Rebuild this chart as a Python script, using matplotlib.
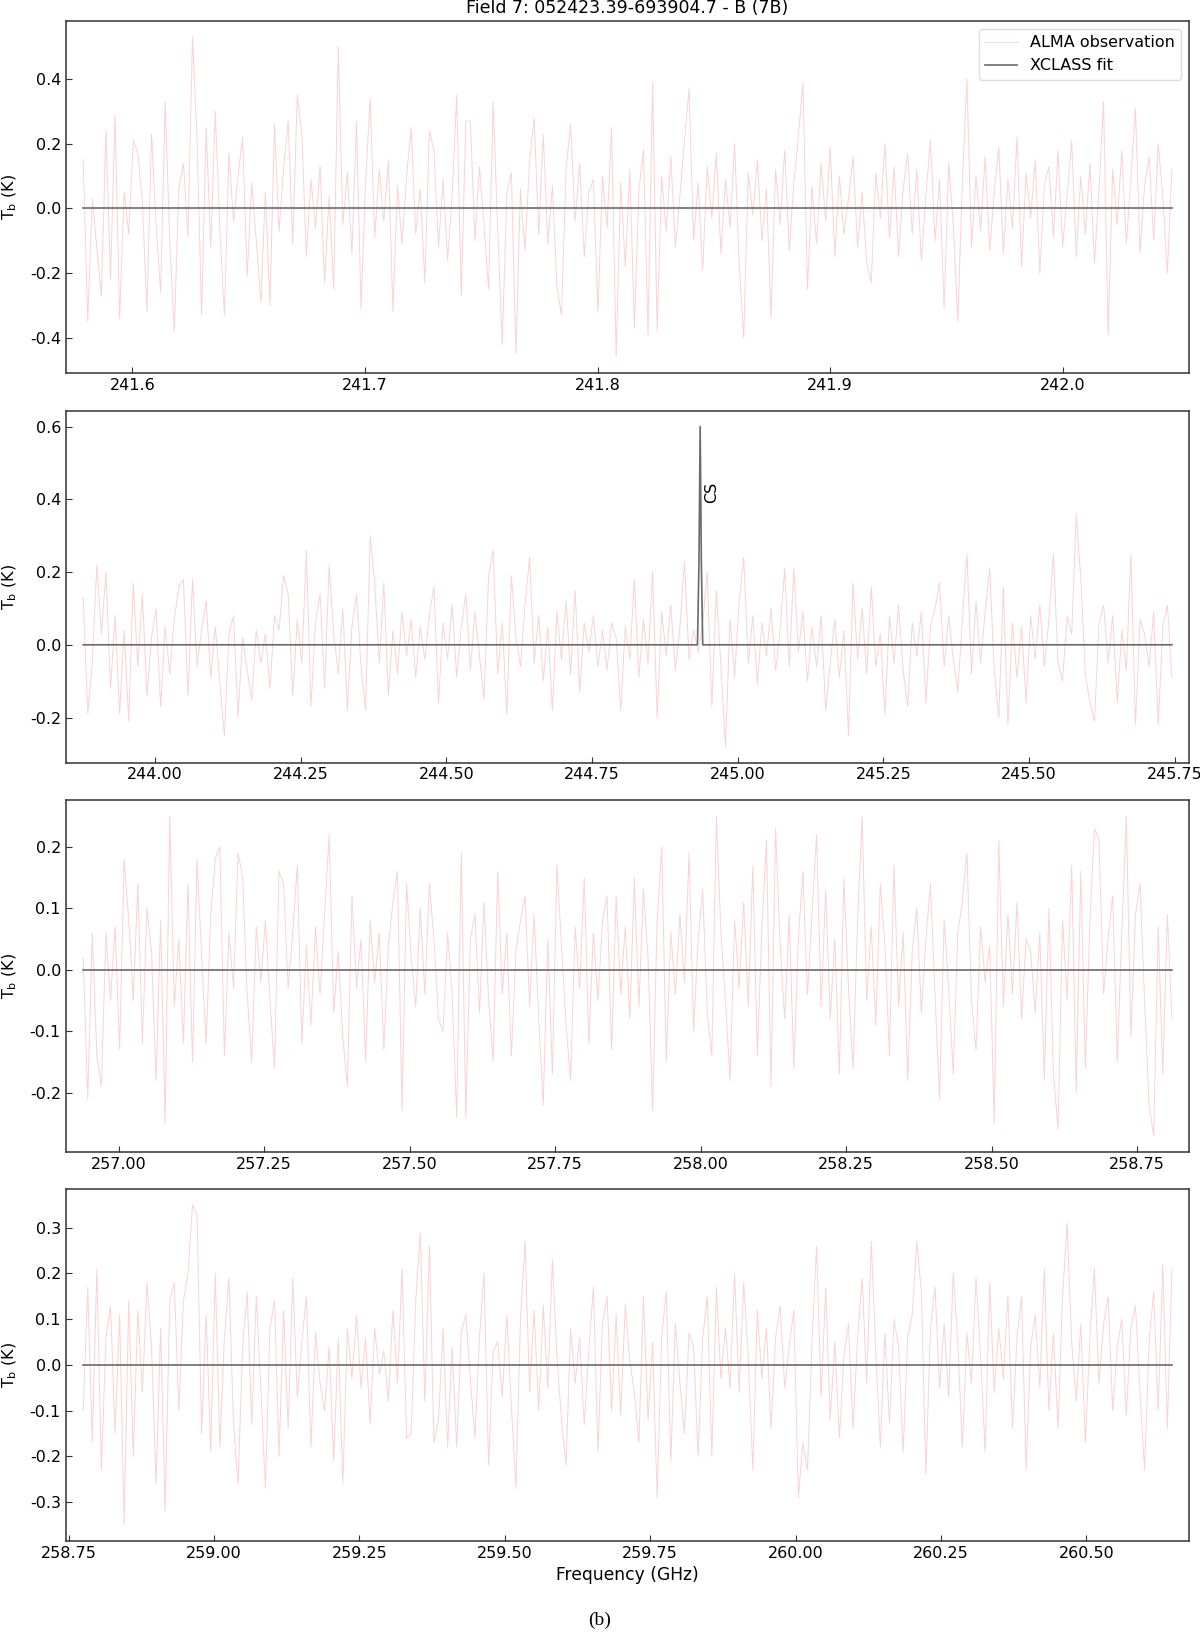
import numpy as np
import matplotlib
matplotlib.use('Agg')
import matplotlib.pyplot as plt

# Faixas de frequência (GHz) de cada janela espectral
freq_lim_1 = (241.5788, 242.047)
freq_lim_2 = (243.877, 245.745)
freq_lim_3 = (256.939, 258.810)
freq_lim_4 = (258.775, 260.647)

tb_obs_1 = [
    0.15, -0.35, 0.03, -0.12, -0.27, 0.24, -0.22, 0.29, -0.34, 0.05, -0.08, 0.21, 0.17, 0.02, -0.32, 0.23, -0.05, -0.26, 0.33, -0.10,
    -0.38, 0.06, 0.14, -0.09, 0.53, 0.21, -0.33, 0.25, -0.12, 0.30, -0.06, -0.33, 0.17, -0.04, 0.10, 0.22, -0.21, 0.08, -0.10, -0.29,
    0.05, -0.30, 0.26, -0.07, 0.12, 0.27, -0.11, 0.35, 0.23, -0.15, 0.09, -0.06, 0.13, -0.23, 0.04, -0.25, 0.50, -0.05, 0.11, -0.14,
    0.27, -0.31, 0.08, 0.34, -0.09, 0.12, -0.04, 0.15, -0.32, 0.07, -0.11, 0.10, 0.25, -0.08, 0.06, -0.23, 0.24, 0.18, -0.12, 0.09,
    -0.16, 0.04, 0.35, -0.27, 0.27, 0.27, -0.10, 0.13, -0.05, -0.25, 0.33, -0.07, -0.42, 0.05, 0.11, -0.45, 0.06, -0.13, 0.15, 0.28,
    -0.08, 0.23, -0.11, 0.07, -0.24, -0.33, 0.12, 0.26, -0.04, 0.14, -0.15, 0.05, 0.09, -0.32, 0.10, -0.06, 0.25, -0.46, 0.08, -0.18,
    0.12, -0.37, 0.06, 0.18, -0.39, 0.39, -0.38, 0.10, -0.07, 0.16, -0.12, 0.04, 0.21, 0.37, -0.10, 0.08, -0.19, 0.13, -0.03, 0.17,
    -0.14, 0.09, -0.06, 0.20, -0.17, -0.40, 0.11, -0.02, 0.15, -0.10, 0.06, -0.34, 0.12, -0.05, 0.18, -0.13, 0.08, 0.22, 0.39, -0.25,
    0.07, -0.11, 0.14, -0.04, 0.19, -0.15, 0.10, -0.08, 0.03, 0.16, -0.12, 0.05, -0.17, -0.23, 0.11, -0.03, 0.20, -0.09, 0.13, -0.15,
    0.06, 0.17, -0.08, 0.12, -0.16, 0.04, 0.21, -0.10, 0.09, -0.31, 0.14, -0.05, -0.35, 0.08, 0.40, -0.12, 0.10, -0.07, 0.16, -0.13,
    0.05, 0.19, -0.14, 0.09, -0.06, 0.22, -0.18, 0.11, -0.03, 0.15, -0.20, 0.07, 0.13, -0.09, 0.18, -0.12, 0.04, 0.21, -0.15, 0.10,
    -0.08, 0.14, -0.17, 0.06, 0.33, -0.39, 0.12, -0.05, 0.18, -0.11, 0.09, 0.31, -0.14, 0.07, 0.16, -0.10, 0.20, 0.04, -0.20, 0.12,
]
tb_obs_2 = [
    0.13, -0.19, -0.05, 0.22, 0.03, 0.20, -0.12, 0.08, -0.19, 0.04, -0.21, 0.17, -0.06, 0.14, -0.14, 0.02, 0.10, -0.17, 0.05, -0.08,
    0.07, 0.16, 0.18, -0.14, 0.18, -0.06, 0.04, 0.12, -0.09, 0.05, -0.10, -0.25, 0.03, 0.08, -0.20, 0.02, -0.07, -0.15, 0.04, -0.05,
    0.03, -0.12, 0.08, 0.04, 0.19, 0.14, -0.14, 0.07, -0.05, 0.26, -0.17, 0.06, 0.14, -0.12, 0.22, 0.03, -0.08, 0.10, -0.18, 0.05,
    0.14, -0.06, -0.18, 0.30, 0.17, -0.05, 0.17, -0.14, 0.04, -0.08, 0.09, -0.03, 0.07, -0.09, 0.05, -0.04, 0.08, 0.16, -0.16, 0.06,
    -0.04, 0.11, -0.09, 0.05, 0.14, -0.07, 0.09, -0.03, -0.15, 0.19, 0.26, -0.08, 0.06, -0.19, 0.19, 0.02, -0.06, 0.11, 0.24, -0.05,
    0.08, -0.10, 0.05, -0.18, 0.09, -0.04, 0.12, -0.08, 0.15, -0.13, 0.06, -0.02, 0.08, -0.06, 0.04, -0.07, 0.06, 0.02, -0.18, 0.05,
    -0.04, 0.18, -0.09, 0.07, -0.05, 0.20, -0.20, 0.09, -0.03, 0.11, -0.07, 0.05, 0.23, -0.04, 0.04, -0.02, 0.06, 0.20, -0.17, 0.15,
    -0.06, -0.28, 0.07, -0.09, 0.12, 0.24, -0.05, 0.08, -0.11, 0.06, -0.03, 0.10, -0.07, 0.04, 0.21, -0.06, 0.21, -0.02, 0.09, -0.10,
    0.05, -0.06, 0.08, -0.18, -0.05, 0.07, -0.09, 0.04, -0.25, 0.17, -0.04, 0.10, -0.08, 0.16, -0.06, 0.03, -0.19, 0.08, -0.05, 0.11,
    -0.07, -0.17, 0.06, -0.03, 0.09, -0.16, 0.05, 0.10, 0.17, -0.06, 0.08, -0.04, -0.13, 0.07, 0.25, -0.08, 0.12, -0.05, 0.09, 0.21,
    -0.07, -0.20, 0.16, -0.22, 0.06, -0.09, 0.05, -0.16, 0.08, -0.04, 0.11, -0.06, 0.07, 0.25, -0.05, -0.10, 0.08, 0.03, 0.36, 0.18,
    -0.08, -0.16, -0.21, 0.06, 0.11, -0.05, 0.08, -0.16, 0.04, -0.07, 0.25, -0.22, 0.07, 0.03, -0.06, 0.09, -0.22, 0.05, 0.11, -0.09,
]
tb_obs_3 = [
    0.02, -0.21, 0.06, -0.14, -0.19, 0.06, -0.05, 0.07, -0.13, 0.18, 0.08, -0.05, 0.14, -0.12, 0.10, 0.03, -0.18, 0.08, -0.25, 0.25,
    -0.06, 0.05, -0.12, 0.14, -0.15, 0.18, 0.02, -0.12, 0.09, 0.18, 0.20, -0.14, 0.06, -0.03, 0.19, 0.15, -0.04, -0.15, 0.07, -0.02,
    0.08, -0.05, -0.16, 0.16, 0.14, -0.03, 0.06, 0.17, -0.12, 0.04, -0.09, 0.07, -0.04, 0.09, 0.22, -0.07, 0.03, -0.11, -0.19, 0.12,
    -0.03, 0.05, -0.15, 0.08, -0.02, 0.06, -0.13, 0.04, 0.11, 0.16, -0.23, 0.14, 0.02, -0.06, 0.10, -0.04, 0.14, 0.05, -0.08, -0.10,
    0.06, -0.04, -0.24, 0.19, -0.24, 0.05, 0.09, -0.07, 0.11, -0.05, -0.15, 0.16, -0.04, 0.06, -0.14, 0.03, 0.08, 0.12, -0.06, 0.09,
    -0.08, -0.22, 0.05, -0.17, 0.17, 0.04, -0.09, -0.18, 0.07, -0.03, 0.15, -0.12, 0.06, -0.05, 0.08, 0.12, -0.13, 0.12, -0.04, 0.07,
    -0.08, 0.15, -0.06, 0.13, 0.02, -0.23, 0.08, 0.20, -0.15, 0.06, -0.04, 0.09, -0.02, 0.19, -0.10, 0.05, 0.13, -0.07, -0.14, 0.25,
    0.06, -0.05, -0.18, 0.08, -0.03, 0.11, -0.06, 0.17, -0.14, 0.07, 0.21, -0.19, 0.23, 0.04, -0.08, 0.09, -0.16, 0.05, 0.16, -0.04,
    0.09, 0.22, -0.06, 0.13, -0.08, 0.05, -0.17, 0.15, -0.03, -0.16, 0.08, 0.25, -0.05, 0.07, -0.09, 0.14, 0.04, -0.14, 0.17, -0.06,
    0.06, -0.18, 0.03, 0.10, -0.07, 0.05, 0.14, -0.04, -0.21, 0.08, -0.03, -0.17, 0.06, 0.11, 0.19, -0.05, -0.13, 0.07, -0.02, 0.04,
    -0.25, 0.21, -0.06, 0.09, -0.04, 0.11, -0.08, 0.05, 0.03, -0.07, 0.06, -0.18, 0.10, -0.17, -0.26, 0.08, -0.05, 0.17, -0.20, 0.16,
    -0.16, 0.08, 0.23, 0.21, -0.04, 0.05, 0.12, -0.15, 0.06, 0.25, -0.11, 0.09, 0.14, -0.05, -0.22, -0.27, 0.07, -0.17, 0.09, -0.08,
]
tb_obs_4 = [
    -0.10, 0.17, -0.17, 0.21, -0.23, 0.06, 0.13, -0.15, 0.11, -0.35, 0.14, -0.20, 0.12, -0.06, 0.18, 0.04, -0.26, 0.08, -0.32, 0.14,
    0.18, -0.10, 0.14, 0.20, 0.35, 0.33, -0.15, 0.11, -0.19, 0.20, -0.18, 0.06, 0.19, -0.13, -0.26, 0.04, 0.16, -0.13, 0.15, -0.05,
    -0.27, 0.08, 0.14, -0.20, 0.12, -0.14, 0.19, -0.07, 0.05, 0.15, -0.18, 0.07, -0.04, -0.10, 0.04, -0.21, 0.06, -0.26, 0.08, -0.03,
    0.11, -0.05, 0.06, -0.13, 0.08, -0.02, 0.03, -0.08, 0.12, -0.04, 0.21, -0.16, -0.15, 0.14, 0.29, -0.08, 0.26, -0.17, -0.12, 0.08,
    -0.18, 0.04, -0.18, 0.07, 0.11, -0.03, -0.16, 0.06, 0.20, -0.22, 0.03, 0.05, -0.07, 0.11, -0.09, -0.27, 0.10, 0.27, -0.06, 0.12,
    -0.10, 0.13, -0.05, 0.23, 0.02, -0.12, -0.22, 0.08, -0.04, 0.06, -0.13, 0.03, 0.17, -0.19, 0.09, 0.15, -0.10, 0.11, -0.11, 0.13,
    0.01, -0.06, -0.17, 0.15, -0.12, 0.05, -0.29, 0.06, 0.16, -0.21, 0.09, -0.04, -0.15, 0.07, 0.04, -0.20, 0.06, 0.15, -0.20, 0.17,
    -0.03, 0.08, -0.05, 0.20, -0.06, 0.18, 0.02, -0.23, 0.12, -0.03, 0.08, -0.14, 0.06, 0.13, -0.05, 0.04, 0.12, -0.29, -0.17, -0.23,
    0.05, 0.26, -0.07, 0.17, -0.12, 0.05, -0.16, 0.02, 0.09, -0.14, 0.06, 0.19, -0.04, 0.27, 0.03, -0.18, 0.07, -0.13, 0.10, 0.04,
    -0.19, 0.06, 0.11, 0.27, 0.16, -0.24, 0.08, 0.17, -0.05, 0.09, -0.07, 0.20, 0.05, -0.18, 0.07, -0.04, 0.19, 0.02, -0.19, 0.18,
    -0.06, 0.08, -0.03, 0.15, -0.14, 0.06, 0.15, -0.23, 0.04, 0.11, -0.05, 0.21, -0.10, 0.07, -0.14, 0.15, 0.31, 0.05, -0.08, 0.09,
    -0.17, 0.06, 0.21, -0.04, 0.09, 0.15, -0.10, 0.04, 0.10, -0.11, 0.08, 0.13, -0.06, -0.23, 0.05, 0.16, -0.10, 0.22, -0.14, 0.21,
]

# Ajuste XCLASS: linha de base nula, com a linha de CS na segunda janela
fit_freq_1 = [241.5788, 242.047]
fit_tb_1 = [0.0, 0.0]
fit_freq_2 = [243.877, 244.9310, 244.9335, 244.9356, 244.9377, 244.9400, 245.745]
fit_tb_2 = [0.0, 0.0, 0.22, 0.60, 0.22, 0.0, 0.0]
fit_freq_3 = [256.939, 258.810]
fit_tb_3 = [0.0, 0.0]
fit_freq_4 = [258.775, 260.647]
fit_tb_4 = [0.0, 0.0]

# Identificação de linha (frequência, Tb do rótulo)
cs_label_freq = 244.955
cs_label_tb = 0.42

titulo = 'Field 7: 052423.39-693904.7 - B (7B)'

plt.rcParams['font.family'] = ['DejaVu Sans']
plt.rcParams['font.size'] = 11
plt.rcParams['xtick.direction'] = 'in'
plt.rcParams['ytick.direction'] = 'in'
plt.rcParams['axes.edgecolor'] = '#333333'
plt.rcParams['axes.linewidth'] = 1.1

fig = plt.figure(figsize=(12, 16.32), dpi=100)

# posições dos painéis (left, bottom, width, height)
posicoes = [
    [0.0548, 0.7713, 0.9363, 0.2159],
    [0.0548, 0.5327, 0.9363, 0.2157],
    [0.0548, 0.2943, 0.9363, 0.2155],
    [0.0548, 0.0558, 0.9363, 0.2157],
]
obs = [tb_obs_1, tb_obs_2, tb_obs_3, tb_obs_4]
lims = [freq_lim_1, freq_lim_2, freq_lim_3, freq_lim_4]
fits = [(fit_freq_1, fit_tb_1), (fit_freq_2, fit_tb_2),
        (fit_freq_3, fit_tb_3), (fit_freq_4, fit_tb_4)]

cor_obs = '#fbd2d2'
cor_fit = '#6a6a6a'

axes = []
for k in range(4):
    ax = fig.add_axes(posicoes[k])
    freq = np.linspace(lims[k][0], lims[k][1], len(obs[k]))
    ax.plot(freq, obs[k], color=cor_obs, lw=0.7, label='ALMA observation')
    ax.plot(fits[k][0], fits[k][1], color=cor_fit, lw=1.2, label='XCLASS fit')
    ax.margins(x=0.016, y=0.05)
    ax.tick_params(labelsize=11.5, length=4, color='#333333')
    ax.yaxis.set_major_formatter(matplotlib.ticker.FormatStrFormatter('%.1f'))
    if k > 0:
        ax.xaxis.set_major_formatter(matplotlib.ticker.FormatStrFormatter('%.2f'))
    y_centro = posicoes[k][1] + posicoes[k][3] / 2
    fig.text(0.0085, y_centro, r'T$_\mathrm{b}$ (K)', rotation=90,
             ha='center', va='center', fontsize=11.5)
    axes.append(ax)

axes[0].set_xticks([241.6, 241.7, 241.8, 241.9, 242.0])
axes[0].xaxis.set_major_formatter(matplotlib.ticker.FormatStrFormatter('%.1f'))
axes[0].legend(loc='upper right', fontsize=11.5, framealpha=1, edgecolor='#dddddd')

axes[1].text(cs_label_freq, cs_label_tb, 'CS', rotation=90, ha='center',
             va='center', fontsize=11.5)

fig.text(0.523, 1 - 13 / 1632, titulo, ha='center', va='baseline', fontsize=12.5)
fig.text(0.523, 1 - 1575 / 1632, 'Frequency (GHz)', ha='center', va='center', fontsize=12.3)
fig.text(0.5, 1 - 1620 / 1632, '(b)', ha='center', va='center', fontsize=14,
         family='Liberation Serif')

plt.savefig('out.png', dpi=100)
